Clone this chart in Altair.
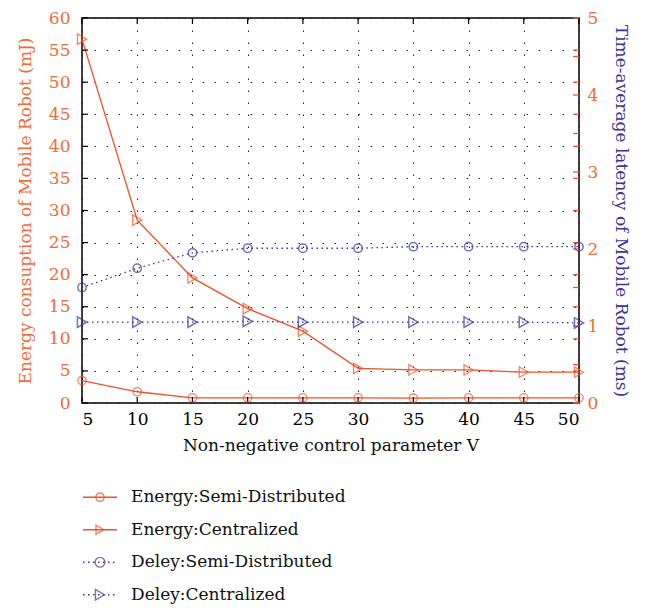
import altair as alt
import pandas as pd

V = [5, 10, 15, 20, 25, 30, 35, 40, 45, 50]
energy_semi = [3.5, 1.75, 0.8, 0.8, 0.8, 0.8, 0.75, 0.8, 0.8, 0.8]
energy_cent = [56.7, 28.5, 19.5, 14.7, 11.2, 5.4, 5.15, 5.15, 4.8, 4.8]
delay_semi = [1.50, 1.75, 1.95, 2.01, 2.01, 2.01, 2.03, 2.03, 2.03, 2.03]
delay_cent = [1.05, 1.05, 1.05, 1.06, 1.05, 1.05, 1.05, 1.05, 1.05, 1.04]

series = ["Energy:Semi-Distributed", "Energy:Centralized",
          "Deley:Semi-Distributed", "Deley:Centralized"]
x_ticks = [5, 10, 15, 20, 25, 30, 35, 40, 45, 50]
left_ticks = [0, 5, 10, 15, 20, 25, 30, 35, 40, 45, 50, 55, 60]
right_ticks = [0, 0.5, 1, 1.5, 2, 2.5, 3, 3.5, 4, 4.5, 5]
right_labels = [0, 1, 2, 3, 4, 5]

ORANGE = "#f0502a"
LABEL_ORANGE = "#f26b3a"
BLUE = "#3b3596"
FONT = "'DejaVu Serif', serif"
W, H = 497, 385
FS = 17

df = pd.DataFrame({"V": V, "es": energy_semi, "ec": energy_cent,
                   "ds": delay_semi, "dc": delay_cent})
base = alt.Chart(df)

xscale = alt.Scale(domain=[5, 50], nice=False, zero=False)
x_axis = alt.Axis(values=x_ticks, title="Non-negative control parameter V",
                  grid=True, gridDash=[1.5, 10.5], gridColor="#222",
                  gridWidth=1, ticks=False, domain=False,
                  labelPadding=8, titlePadding=10,
                  labelColor="black", titleColor="#111",
                  labelFont=FONT, titleFont=FONT,
                  labelFontSize=FS, titleFontSize=FS,
                  titleFontWeight="normal")


def xe(field):
    return alt.X(field, scale=xscale, axis=x_axis)


yl_scale = alt.Scale(domain=[0, 60], nice=False)
yr_scale = alt.Scale(domain=[0, 5], nice=False)
yl_axis = alt.Axis(values=left_ticks,
                   title="Energy consuption of Mobile Robot (mJ)",
                   grid=True, gridDash=[1.5, 10.5], gridColor="#222",
                   gridWidth=1, ticks=False, domain=False,
                   labelPadding=12, titlePadding=14,
                   labelColor=LABEL_ORANGE, titleColor=LABEL_ORANGE,
                   labelFont=FONT, titleFont=FONT,
                   labelFontSize=FS, titleFontSize=FS,
                   titleFontWeight="normal")
yr_axis = alt.Axis(orient="right", values=right_labels,
                   title="Time-average latency of Mobile Robot (ms)",
                   grid=False, ticks=False, domain=False,
                   labelPadding=8, titlePadding=14,
                   labelColor=LABEL_ORANGE, titleColor=BLUE,
                   labelFont=FONT, titleFont=FONT,
                   labelFontSize=FS, titleFontSize=FS,
                   titleFontWeight="normal")


def yl(field):
    return alt.Y(field, scale=yl_scale, axis=yl_axis)


def yr(field):
    return alt.Y(field, scale=yr_scale, axis=yr_axis)


es_line = base.mark_line(color=ORANGE, strokeWidth=1.3).encode(x=xe("V:Q"), y=yl("es:Q"))
es_pt = base.mark_point(shape="circle", filled=False, size=70, color=ORANGE,
                        strokeWidth=1.3).encode(x=xe("V:Q"), y=yl("es:Q"))
ec_line = base.mark_line(color=ORANGE, strokeWidth=1.3).encode(x=xe("V:Q"), y=yl("ec:Q"))
ec_pt = base.mark_point(shape="triangle-right", filled=False, size=110, color=ORANGE,
                        strokeWidth=1.3).encode(x=xe("V:Q"), y=yl("ec:Q"))

lt_df = pd.DataFrame({"t": left_ticks})
left_tick_marks = alt.Chart(lt_df).mark_rule(color="black", strokeWidth=1.2).encode(
    y=yl("t:Q"), x=alt.value(0), x2=alt.value(6))
left_mirror = alt.Chart(lt_df).mark_rule(color=ORANGE, strokeWidth=1.2).encode(
    y=yl("t:Q"), x=alt.value(W - 6), x2=alt.value(W))

xt_df = pd.DataFrame({"t": x_ticks})
x_bottom = alt.Chart(xt_df).mark_rule(color="black", strokeWidth=1.2).encode(
    x=xe("t:Q"), y=alt.value(H), y2=alt.value(H - 6))
x_top = alt.Chart(xt_df).mark_rule(color="black", strokeWidth=1.2).encode(
    x=xe("t:Q"), y=alt.value(0), y2=alt.value(6))

left_layer = alt.layer(es_line, ec_line, left_tick_marks, left_mirror,
                       x_bottom, x_top, es_pt, ec_pt)

ds_line = base.mark_line(color=BLUE, strokeWidth=1.3, strokeDash=[1.5, 3.5]).encode(
    x=xe("V:Q"), y=yr("ds:Q"))
ds_pt = base.mark_point(shape="circle", filled=False, size=70, color=BLUE,
                        strokeWidth=1.5).encode(x=xe("V:Q"), y=yr("ds:Q"))
dc_line = base.mark_line(color=BLUE, strokeWidth=1.3, strokeDash=[1.5, 3.5]).encode(
    x=xe("V:Q"), y=yr("dc:Q"))
dc_pt = base.mark_point(shape="triangle-right", filled=False, size=110, color=BLUE,
                        strokeWidth=1.5).encode(x=xe("V:Q"), y=yr("dc:Q"))

rt_df = pd.DataFrame({"t": right_ticks})
right_tick_marks = alt.Chart(rt_df).mark_rule(color=ORANGE, strokeWidth=1.2).encode(
    y=yr("t:Q"), x=alt.value(W - 6), x2=alt.value(W))

right_layer = alt.layer(ds_line, dc_line, right_tick_marks, ds_pt, dc_pt)

top = alt.layer(left_layer, right_layer).resolve_scale(y="independent").properties(
    width=W, height=H)

# legend
leg_df = pd.DataFrame({"series": series})
color_s = alt.Scale(domain=series, range=[ORANGE, ORANGE, BLUE, BLUE])
dash_s = alt.Scale(domain=series, range=[[1, 0], [1, 0], [1.5, 3.5], [1.5, 3.5]])
shape_s = alt.Scale(domain=series, range=["circle", "triangle-right", "circle", "triangle-right"])
size_s = alt.Scale(domain=series, range=[70, 110, 70, 110])
ly = alt.Y("series:N", sort=series, axis=None)
lbase = alt.Chart(leg_df)
leg_line = lbase.mark_rule(strokeWidth=1.3).encode(
    y=ly, x=alt.value(1), x2=alt.value(35),
    color=alt.Color("series:N", scale=color_s, legend=None),
    strokeDash=alt.StrokeDash("series:N", scale=dash_s, legend=None))
leg_pt = lbase.mark_point(filled=False, strokeWidth=1.4).encode(
    y=ly, x=alt.value(18),
    color=alt.Color("series:N", scale=color_s, legend=None),
    shape=alt.Shape("series:N", scale=shape_s, legend=None),
    size=alt.Size("series:N", scale=size_s, legend=None))
leg_txt = lbase.mark_text(align="left", baseline="middle", font=FONT,
                          fontSize=FS, color="#111").encode(
    y=ly, x=alt.value(49), text="series:N")
legend = alt.layer(leg_line, leg_pt, leg_txt).properties(
    width=W, height=130, view=alt.ViewBackground(stroke="transparent"))

chart = alt.vconcat(top, legend, spacing=26).properties(
    padding={"left": 7, "top": 0, "right": 5, "bottom": 0}
).configure_view(stroke="black", strokeWidth=1.5)

chart.save("out.html", embed_options={"renderer": "svg", "actions": False})
